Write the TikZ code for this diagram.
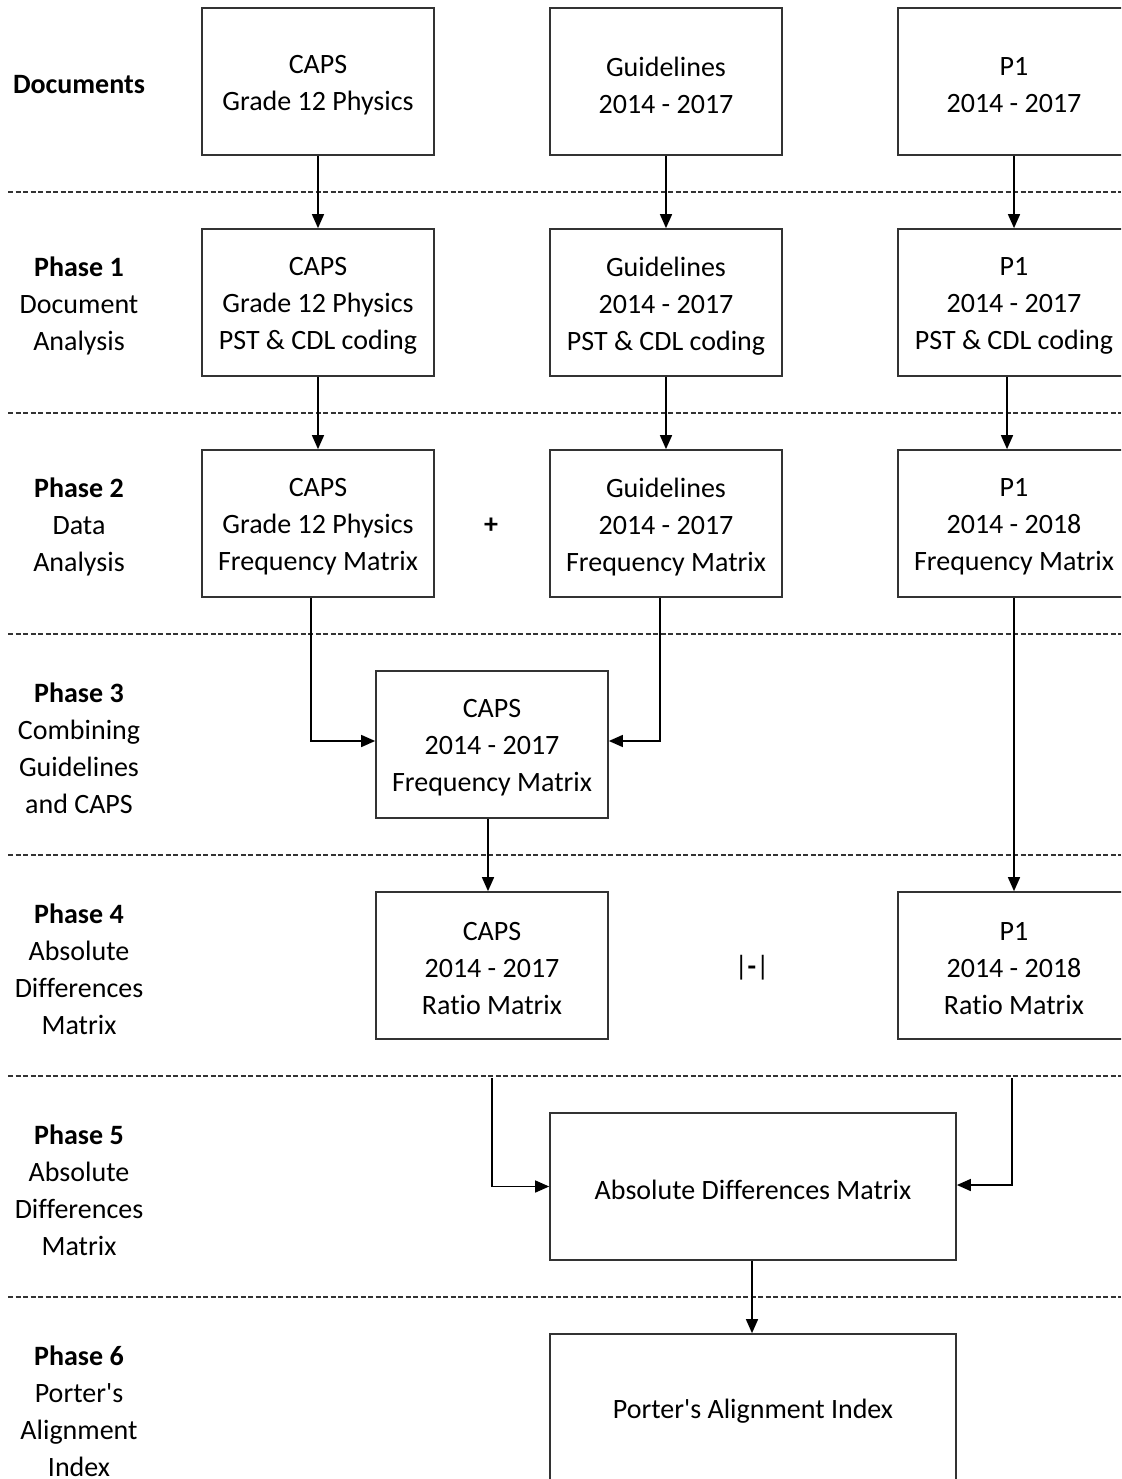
\documentclass[tikz,border=0pt]{standalone}
\usepackage{fontspec}
\setmainfont{Carlito}[Ligatures={NoCommon}]
\usetikzlibrary{arrows.meta}
\begin{document}
\begin{tikzpicture}[x=1pt,y=-1pt,
  lbl/.style={align=center, inner sep=0pt, font=\fontsize{28}{37}\selectfont},
  btext/.style={lbl, yshift=-3.5pt},
  box/.style={draw=black!80, line width=1.7pt, minimum width=232pt, minimum height=147pt,
    inner sep=0pt, label={[btext]center:{#1}}},
  widebox/.style={box=#1, minimum width=406pt},
  rowlbl/.style={lbl, yshift=-2pt},
  sep/.style={dash pattern=on 5pt off 2.5pt, line width=1.1pt, black!80},
  flow/.style={line width=1.5pt, -{Triangle[width=12pt,length=14pt]}}]
\useasboundingbox (0,0) rectangle (1121,1479);
\clip (0,0) rectangle (1121,1479);

% phase separators
\foreach \yy in {192,413,634,855,1076,1297}
  \draw[sep] (8,\yy) -- (1121,\yy);

% row labels
\node[rowlbl] (lDoc) at (79,83)    {\textbf{Documents}};
\node[rowlbl] (lP1)  at (79,304)   {\textbf{Phase 1}\\Document\\Analysis};
\node[rowlbl] (lP2)  at (79,525)   {\textbf{Phase 2}\\Data\\Analysis};
\node[rowlbl] (lP3)  at (79,746.5) {\textbf{Phase 3}\\Combining\\Guidelines\\and CAPS};
\node[rowlbl] (lP4)  at (79,967.5) {\textbf{Phase 4}\\Absolute\\Differences\\Matrix};
\node[rowlbl] (lP5)  at (79,1188.5){\textbf{Phase 5}\\Absolute\\Differences\\Matrix};
\node[rowlbl] (lP6)  at (79,1409.5){\textbf{Phase 6}\\Porter\textquotesingle s\\Alignment\\Index};

% documents
\node[box={CAPS\\Grade 12 Physics}] (d1) at (318,81.5)  {};
\node[box={Guidelines\\2014 - 2017}] (d2) at (666,81.5)  {};
\node[box={P1\\2014 - 2017}]         (d3) at (1014,81.5) {};

% phase 1
\node[box={CAPS\\Grade 12 Physics\\PST \& CDL coding}] (a1) at (318,302.5)  {};
\node[box={Guidelines\\2014 - 2017\\PST \& CDL coding}] (a2) at (666,302.5)  {};
\node[box={P1\\2014 - 2017\\PST \& CDL coding}]         (a3) at (1014,302.5) {};

% phase 2
\node[box={CAPS\\Grade 12 Physics\\Frequency Matrix}] (b1) at (318,523.5)  {};
\node[box={Guidelines\\2014 - 2017\\Frequency Matrix}] (b2) at (666,523.5)  {};
\node[box={P1\\2014 - 2018\\Frequency Matrix}]         (b3) at (1014,523.5) {};
\node[lbl] (plus) at (491,526) {\textbf{+}};

% phase 3
\node[box={CAPS\\2014 - 2017\\Frequency Matrix}] (c1) at (492,744.5) {};

% phase 4
\node[box={CAPS\\2014 - 2017\\Ratio Matrix}] (e1) at (492,965.5)  {};
\node[box={P1\\2014 - 2018\\Ratio Matrix}]   (e3) at (1014,965.5) {};
\node[lbl] (minus) at (752,968) {|\textbf{-}|};

% phase 5
\node[widebox={Absolute Differences Matrix}] (f1) at (753,1186.5) {};

% phase 6
\node[widebox={Porter\textquotesingle s Alignment Index}] (g1) at (753,1407.5) {};

% connectors
\draw[flow] (d1.south) -- (a1.north);
\draw[flow] (d2.south) -- (a2.north);
\draw[flow] (d3.south) -- (a3.north);

\draw[flow] (a1.south) -- (b1.north);
\draw[flow] (a2.south) -- (b2.north);
\draw[flow] ([xshift=-7pt]a3.south) -- ([xshift=-7pt]b3.north);

\draw[flow] ([xshift=-7pt]b1.south) |- ([yshift=3.5pt]c1.west);
\draw[flow] ([xshift=-6pt]b2.south) |- ([yshift=3.5pt]c1.east);
\draw[flow] (b3.south) -- (e3.north);

\draw[flow] ([xshift=-4pt]c1.south) -- ([xshift=-4pt]e1.north);

\coordinate (j1) at (492,1078);
\coordinate (j2) at (1012,1078);
\draw[flow] (j1) |- (f1.west);
\draw[flow] (j2) |- ([yshift=1.5pt]f1.east);

\draw[flow] ([xshift=-1pt]f1.south) -- ([xshift=-1pt]g1.north);
\end{tikzpicture}
\end{document}
